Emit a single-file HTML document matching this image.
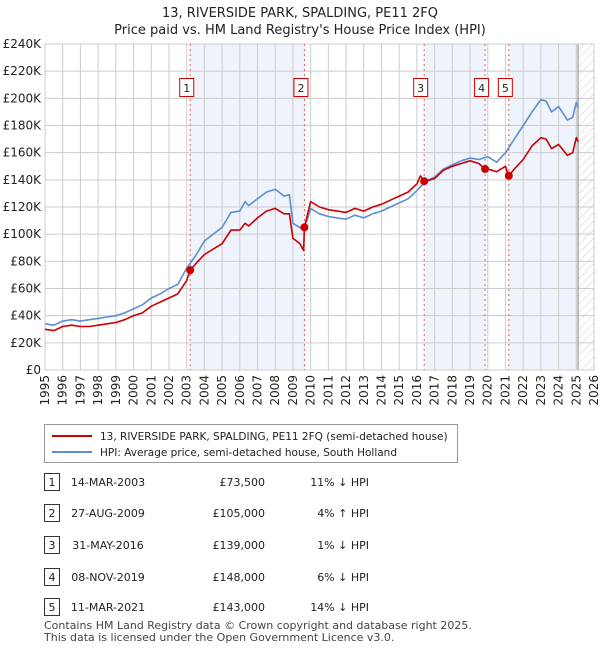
<!DOCTYPE html>
<html><head><meta charset="utf-8">
<style>
body{margin:0;background:#fff;font-family:"Liberation Sans","DejaVu Sans",sans-serif;}
svg text{font-family:"DejaVu Sans","Liberation Sans",sans-serif;}
</style></head>
<body>
<svg id="c" width="600" height="650" viewBox="0 0 600 650">
<defs>
<pattern id="hatch" width="6" height="6" patternUnits="userSpaceOnUse" patternTransform="rotate(45)">
<line x1="0" y1="0" x2="0" y2="6" stroke="#ccc" stroke-width="1"/>
</pattern>
</defs>
<text x="300" y="17" text-anchor="middle" font-size="13" fill="#222">13, RIVERSIDE PARK, SPALDING, PE11 2FQ</text>
<text x="300" y="34" text-anchor="middle" font-size="13" fill="#222">Price paid vs. HM Land Registry's House Price Index (HPI)</text>
<g id="plot"></g>
<g id="legend">
<rect x="44.5" y="424.5" width="413" height="38" fill="#fff" stroke="#999"/>
<line x1="52" y1="436" x2="92" y2="436" stroke="#cc0000" stroke-width="2"/>
<text x="100" y="440" font-size="10.5" fill="#222">13, RIVERSIDE PARK, SPALDING, PE11 2FQ (semi-detached house)</text>
<line x1="52" y1="452" x2="92" y2="452" stroke="#5b8fd0" stroke-width="2"/>
<text x="100" y="456" font-size="10.5" fill="#222">HPI: Average price, semi-detached house, South Holland</text>
</g>
<g id="table"></g>
<text x="44" y="629" font-size="11" fill="#444">Contains HM Land Registry data © Crown copyright and database right 2025.</text>
<text x="44" y="641" font-size="11" fill="#444">This data is licensed under the Open Government Licence v3.0.</text>
</svg>
<script>
const hpiYears=[1995,1995.5,1996,1996.5,1997,1997.5,1998,1998.5,1999,1999.5,2000,2000.5,2001,2001.5,2002,2002.5,2003,2003.5,2004,2004.5,2005,2005.5,2006,2006.3,2006.5,2007,2007.5,2008,2008.5,2008.8,2009,2009.5,2009.8,2010,2010.5,2011,2011.5,2012,2012.5,2013,2013.5,2014,2014.5,2015,2015.5,2016,2016.5,2017,2017.5,2018,2018.5,2019,2019.5,2020,2020.5,2021,2021.5,2022,2022.5,2023,2023.3,2023.6,2024,2024.5,2024.8,2025,2025.1];
const hpiValues=[34,33,36,37,36,37,38,39,40,42,45,48,53,56,60,63,75,84,95,100,105,116,117,124,121,126,131,133,128,129,108,104,110,119,115,113,112,111,114,112,115,117,120,123,126,132,139,142,148,151,154,156,155,157,153,160,170,180,190,199,198,190,194,184,186,197,193];
const priceYears=[1995,1995.5,1996,1996.5,1997,1997.5,1998,1998.5,1999,1999.5,2000,2000.5,2001,2001.5,2002,2002.5,2003,2003.2,2003.5,2004,2004.5,2005,2005.5,2006,2006.3,2006.5,2007,2007.5,2008,2008.5,2008.8,2009,2009.4,2009.6,2009.65,2010,2010.5,2011,2011.5,2012,2012.5,2013,2013.5,2014,2014.5,2015,2015.5,2016,2016.2,2016.4,2016.5,2017,2017.5,2018,2018.5,2019,2019.5,2019.85,2020,2020.5,2021,2021.1,2021.2,2021.5,2022,2022.5,2023,2023.3,2023.6,2024,2024.5,2024.8,2025,2025.1];
const priceValues=[30,29,32,33,32,32,33,34,35,37,40,42,47,50,53,56,66,73.5,78,85,89,93,103,103,108,106,112,117,119,115,115,97,93,88,105,124,120,118,117,116,119,117,120,122,125,128,131,137,143,139,139,141,147,150,152,154,152,148,148,146,150,146,143,148,155,165,171,170,163,166,158,160,171,168];
const saleYears=[2003.2,2009.65,2016.41,2019.85,2021.19];
const saleValues=[73.5,105,139,148,143];
const saleLabels=["1","2","3","4","5"];
const saleDates=["14-MAR-2003","27-AUG-2009","31-MAY-2016","08-NOV-2019","11-MAR-2021"];
const salePrices=["£73,500","£105,000","£139,000","£148,000","£143,000"];
const saleHpi=["11% ↓ HPI","4% ↑ HPI","1% ↓ HPI","6% ↓ HPI","14% ↓ HPI"];
const yTicks=[0,20,40,60,80,100,120,140,160,180,200,220,240];
const xTicks=[1995,1996,1997,1998,1999,2000,2001,2002,2003,2004,2005,2006,2007,2008,2009,2010,2011,2012,2013,2014,2015,2016,2017,2018,2019,2020,2021,2022,2023,2024,2025,2026];
const dataEnd=2025.1;

const X0=45,X1=594,Y0=370,Y1=44;
const xs=y=>X0+(y-1995)/(2026-1995)*(X1-X0);
const ys=v=>Y0-v/240*(Y0-Y1);
const NS="http://www.w3.org/2000/svg";
const plot=document.getElementById('plot');
function mk(tag,attrs,parent){const e=document.createElementNS(NS,tag);for(const k in attrs)e.setAttribute(k,attrs[k]);(parent||plot).appendChild(e);return e;}

[[0,1],[2,3]].forEach(p=>{
 const r=mk('rect',{x:xs(saleYears[p[0]]),y:Y1,width:xs(saleYears[p[1]])-xs(saleYears[p[0]]),height:Y0-Y1,fill:'#eef3fc'});
 
 
});
const r5=mk('rect',{x:xs(saleYears[4]),y:Y1,width:xs(dataEnd)-xs(saleYears[4]),height:Y0-Y1,fill:'#eef3fc'});


const hz=mk('rect',{x:xs(dataEnd),y:Y1,width:X1-xs(dataEnd),height:Y0-Y1,fill:'url(#hatch)'});



yTicks.forEach(v=>{
 mk('line',{x1:X0,x2:X1,y1:ys(v),y2:ys(v),stroke:'#ccc','stroke-width':1});
 const t=mk('text',{x:X0-4,y:ys(v)+4,'text-anchor':'end','font-size':12,fill:'#222'});
 t.textContent=v===0?'£0':'£'+v+'K';
 
 
});
xTicks.forEach(y=>{
 mk('line',{x1:xs(y),x2:xs(y),y1:Y1,y2:Y0,stroke:'#ccc','stroke-width':1});
 const t=mk('text',{x:0,y:0,'text-anchor':'end','font-size':12,fill:'#222',transform:`translate(${xs(y)+4},${Y0+5}) rotate(-90)`});
 t.textContent=y;
 
 
});
mk('line',{x1:xs(dataEnd),x2:xs(dataEnd),y1:Y1,y2:Y0,stroke:'#999','stroke-width':1.2});
mk('rect',{x:X0,y:Y1,width:X1-X0,height:Y0-Y1,fill:'none',stroke:'#ccc'});

saleYears.forEach((y,i)=>{
 const l=mk('line',{x1:xs(y),x2:xs(y),y1:Y1,y2:Y0,stroke:'#e06060','stroke-dasharray':'2,3','stroke-width':1});
 
 
 const rr=mk('rect',{x:xs(y)-10.5,y:78.5,width:14,height:18,fill:'#fff',stroke:'#cc0000'});
 
 
 const t=mk('text',{x:xs(y)-3.5,y:92,'text-anchor':'middle','font-size':11,fill:'#222'});
 t.textContent=saleLabels[i];
 
 
});

function line(xsArr,vArr,color,name){
 const d=xsArr.map((y,i)=>(i?'L':'M')+xs(y).toFixed(1)+','+ys(vArr[i]).toFixed(1)).join('');
 const p=mk('path',{d:d,fill:'none',stroke:color,'stroke-width':1.6,'stroke-linejoin':'round'});
 
 
}
line(hpiYears,hpiValues,'#5b8fd0','hpi-line');
line(priceYears,priceValues,'#cc0000','price-line');
saleYears.forEach((y,i)=>{
 const c=mk('circle',{cx:xs(y),cy:ys(saleValues[i]),r:4,fill:'#cc0000'});
 
 
});

const tb=document.getElementById('table');
const rowY=[482,513,545,577,607];
saleLabels.forEach((s,i)=>{
 const y=rowY[i];
 const b=mk('rect',{x:44.5,y:y-8.5,width:15,height:17,fill:'#fff',stroke:'#333'},tb);
 
 
 const cells=[[52,'middle',s],[108,'middle',saleDates[i]],[265,'end',salePrices[i]],[369,'end',saleHpi[i]]];
 cells.forEach(c=>{
  const t=mk('text',{x:c[0],y:y+4,'text-anchor':c[1],'font-size':11,fill:'#222'},tb);
  t.textContent=c[2];
  
  
 });
});
</script>
</body></html>
